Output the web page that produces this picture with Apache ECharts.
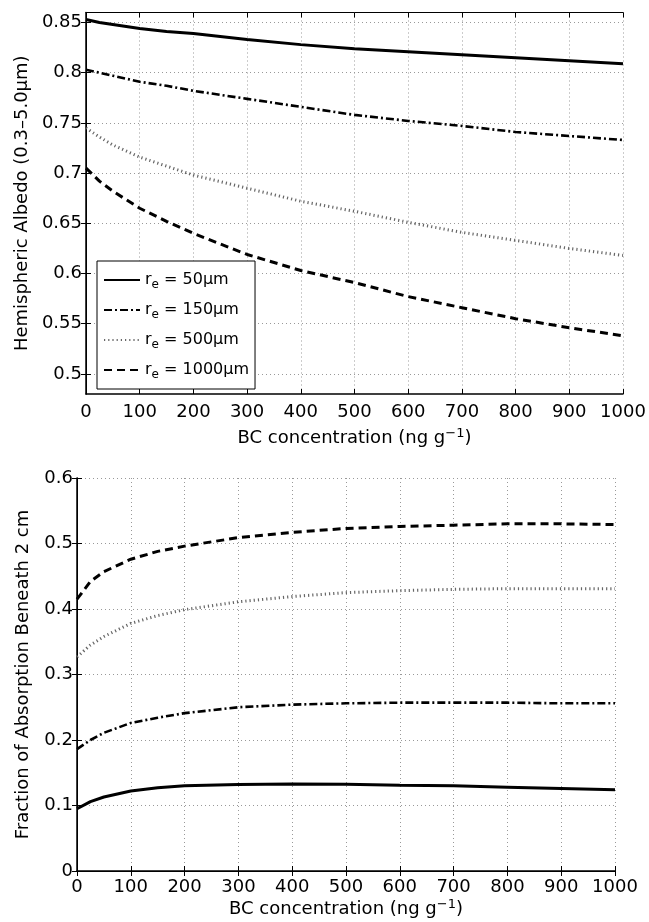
<!DOCTYPE html>
<html>
<head>
<meta charset="utf-8">
<script src="https://cdn.jsdelivr.net/npm/echarts@6/dist/echarts.min.js"></script>
<style>html,body{margin:0;padding:0;background:#fff;}#c{width:649px;height:922px;}</style>
</head>
<body>
<div id="c"></div>
<script>
// BC concentration (ng g^-1)
const bc = [0, 25, 50, 100, 150, 200, 300, 400, 500, 600, 700, 800, 900, 1000];
const seriesNames = ['50μm', '150μm', '500μm', '1000μm'];
// Top: Hemispheric albedo (0.3–5.0 µm)
const albedo50   = [0.853, 0.850, 0.848, 0.844, 0.841, 0.839, 0.833, 0.828, 0.824, 0.821, 0.818, 0.815, 0.812, 0.809];
const albedo150  = [0.803, 0.800, 0.797, 0.791, 0.787, 0.782, 0.774, 0.766, 0.758, 0.752, 0.747, 0.741, 0.737, 0.733];
const albedo500  = [0.745, 0.736, 0.728, 0.716, 0.707, 0.698, 0.685, 0.672, 0.662, 0.651, 0.641, 0.633, 0.625, 0.618];
const albedo1000 = [0.705, 0.692, 0.682, 0.665, 0.652, 0.640, 0.619, 0.603, 0.591, 0.577, 0.566, 0.555, 0.546, 0.538];
// Bottom: fraction of absorption beneath 2 cm
const frac50   = [0.095, 0.106, 0.113, 0.122, 0.127, 0.130, 0.132, 0.133, 0.1325, 0.131, 0.130, 0.128, 0.126, 0.124];
const frac150  = [0.186, 0.200, 0.211, 0.226, 0.234, 0.241, 0.250, 0.254, 0.256, 0.257, 0.257, 0.257, 0.256, 0.256];
const frac500  = [0.327, 0.345, 0.358, 0.378, 0.390, 0.399, 0.411, 0.419, 0.425, 0.428, 0.430, 0.431, 0.431, 0.431];
const frac1000 = [0.415, 0.442, 0.457, 0.476, 0.488, 0.496, 0.509, 0.517, 0.523, 0.526, 0.528, 0.530, 0.530, 0.529];
// Tick labels
const xTicks = [0, 100, 200, 300, 400, 500, 600, 700, 800, 900, 1000];
const topYTicks = [0.5, 0.55, 0.6, 0.65, 0.7, 0.75, 0.8, 0.85];
const botYTicks = [0, 0.1, 0.2, 0.3, 0.4, 0.5, 0.6];

const FONT = 'DejaVu Sans';
const FS = 18;
const styles = [
  {color: '#000', width: 3, type: 'solid'},
  {color: '#000', width: 2.6, type: [8, 3, 2, 3]},
  {color: '#666', width: 3, type: [1.2, 3], cap: 'butt'},
  {color: '#000', width: 3, type: [8, 5]}
];
const gridLine = {show: true, lineStyle: {color: '#999', width: 1, type: [1, 3]}};
const axisLineS = {show: true, onZero: false, lineStyle: {color: '#000', width: 1.5}};
const tickS = {show: true, inside: true, length: 5, lineStyle: {color: '#000', width: 1}};
const labelS = {color: '#000', fontFamily: FONT, fontSize: FS};
const xName = 'BC concentration (ng g{sup|−1})';
const nameStyle = {color: '#000', fontFamily: FONT, fontSize: FS,
  rich: {sup: {fontFamily: FONT, fontSize: 13, color: '#000', padding: [0, 0, 10, 0]}}};

function mk(xs, data) { return xs.map((x, i) => [x, data[i]]); }

function xAxes(gi, gap, margin) {
  return [
    {type: 'value', gridIndex: gi, min: 0, max: 1000, interval: 100, position: 'bottom',
     axisLine: axisLineS, axisTick: tickS, splitLine: gridLine,
     axisLabel: Object.assign({margin: margin, customValues: xTicks, formatter: v => String(v)}, labelS),
     name: xName, nameLocation: 'middle', nameGap: gap, nameTextStyle: nameStyle},
    {type: 'value', gridIndex: gi, min: 0, max: 1000, interval: 100, position: 'top',
     axisLine: {show: true, lineStyle: {color: '#000', width: 1}}, axisTick: tickS,
     splitLine: {show: false}, axisLabel: {show: false}}
  ];
}

const option = {
  animation: false,
  backgroundColor: '#fff',
  grid: [
    {left: 86, top: 12.5, right: 26, height: 381.5, show: false},
    {left: 77, top: 478, right: 34, height: 393, show: false}
  ],
  xAxis: [].concat(xAxes(0, 33, 9), xAxes(1, 27, 7)),
  yAxis: [
    {type: 'value', gridIndex: 0, min: 0.48, max: 0.86, position: 'left',
     axisLine: axisLineS,
     axisTick: Object.assign({customValues: topYTicks}, tickS),
     splitLine: gridLine,
     axisLabel: Object.assign({margin: 4, customValues: topYTicks, formatter: v => String(+v.toFixed(2))}, labelS),
     name: 'Hemispheric Albedo (0.3–5.0μm)', nameLocation: 'middle', nameGap: 55, nameTextStyle: {color: '#000', fontFamily: FONT, fontSize: FS}},
    {type: 'value', gridIndex: 0, min: 0.48, max: 0.86, position: 'right',
     axisLine: {show: true, lineStyle: {color: '#000', width: 1}},
     axisTick: Object.assign({customValues: topYTicks}, tickS),
     splitLine: {show: false}, axisLabel: {show: false, customValues: topYTicks}},
    {type: 'value', gridIndex: 1, min: 0, max: 0.6, interval: 0.1, position: 'left',
     axisLine: axisLineS, axisTick: tickS, splitLine: gridLine,
     axisLabel: Object.assign({margin: 4, customValues: botYTicks, formatter: v => String(+v.toFixed(1))}, labelS),
     name: 'Fraction of Absorption Beneath 2 cm', nameLocation: 'middle', nameGap: 45, nameTextStyle: {color: '#000', fontFamily: FONT, fontSize: FS}},
    {type: 'value', gridIndex: 1, min: 0, max: 0.6, interval: 0.1, position: 'right',
     axisLine: {show: true, lineStyle: {color: '#000', width: 1}},
     axisTick: tickS, splitLine: {show: false}, axisLabel: {show: false}}
  ],
  legend: {
    left: 97, top: 261, orient: 'vertical',
    data: seriesNames,
    itemWidth: 36, itemHeight: 1, itemGap: 11,
    itemStyle: {opacity: 0},
    padding: [11, 6, 8, 6],
    borderColor: '#000', borderWidth: 1, backgroundColor: '#fff',
    formatter: n => 'r{sub|e} = ' + n,
    textStyle: {color: '#000', fontFamily: FONT, fontSize: 16,
      rich: {sub: {fontFamily: FONT, fontSize: 12, color: '#000', padding: [10, 0, 0, 0]}}}
  },
  series: [
    [albedo50, 0], [albedo150, 1], [albedo500, 2], [albedo1000, 3]
  ].map(([d, k]) => ({
    name: seriesNames[k], type: 'line', xAxisIndex: 0, yAxisIndex: 0,
    data: mk(bc, d), showSymbol: false, symbol: 'none', smooth: false,
    lineStyle: styles[k], itemStyle: {color: styles[k].color}, z: 5
  })).concat([
    [frac50, 0], [frac150, 1], [frac500, 2], [frac1000, 3]
  ].map(([d, k]) => ({
    name: seriesNames[k], type: 'line', xAxisIndex: 2, yAxisIndex: 2,
    data: mk(bc, d), showSymbol: false, symbol: 'none', smooth: false,
    lineStyle: styles[k], itemStyle: {color: styles[k].color}, z: 5
  })))
};
const chart = echarts.init(document.getElementById('c'), null, {renderer: 'canvas'});
chart.setOption(option);
</script>
</body>
</html>
